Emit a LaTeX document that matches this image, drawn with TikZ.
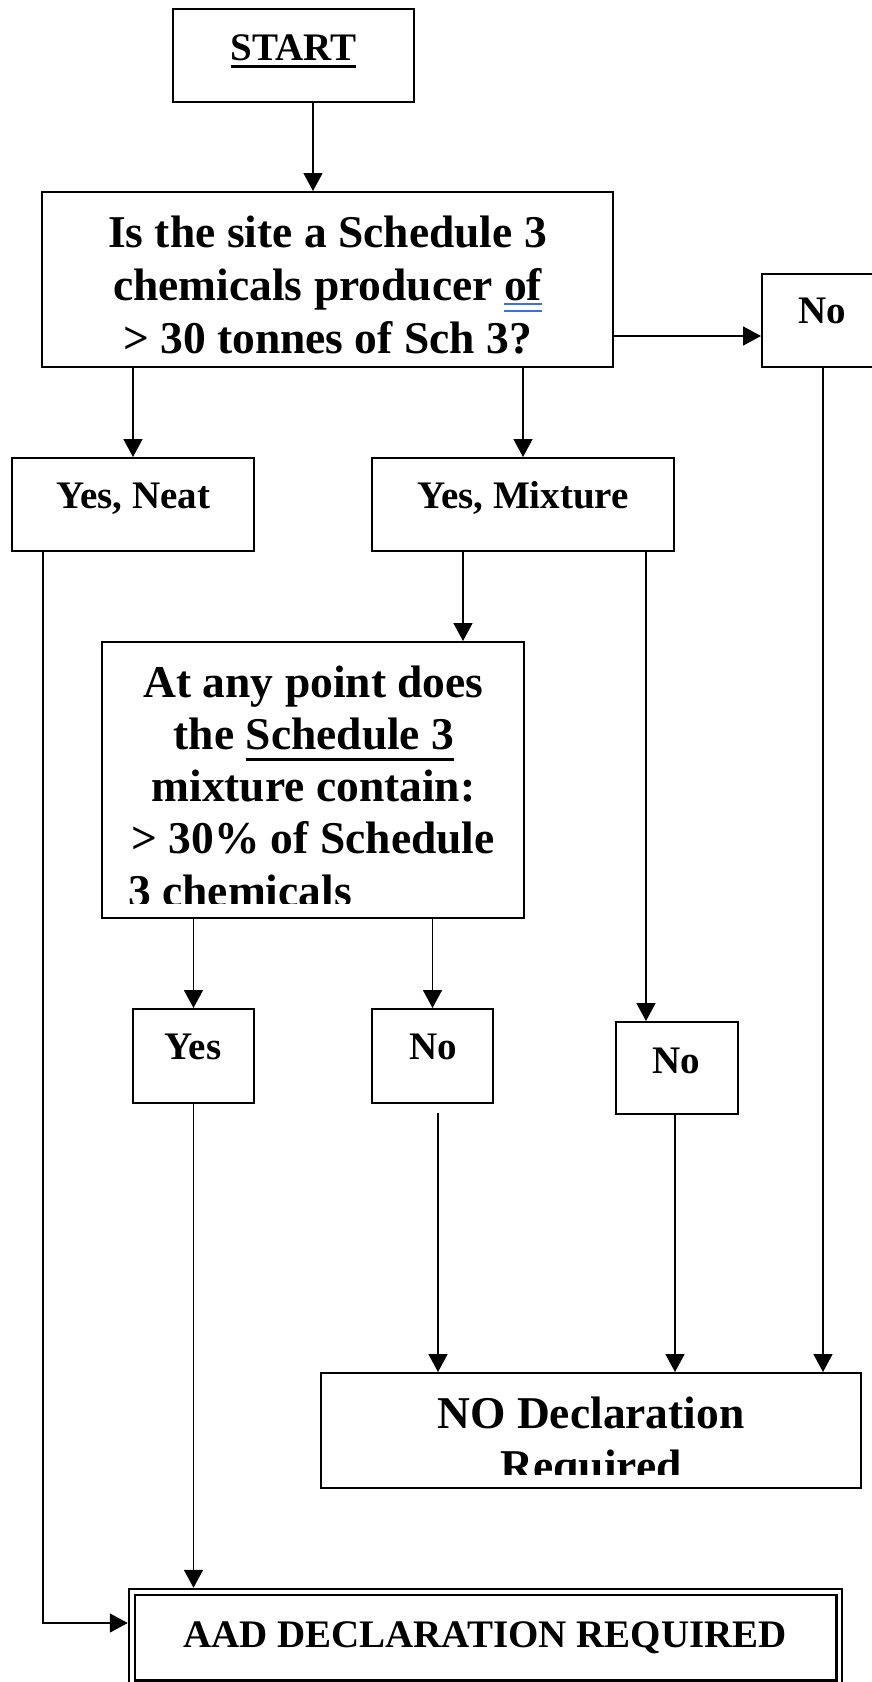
\documentclass[tikz,border=0pt]{standalone}
\usepackage{fontspec}
\setmainfont{Liberation Serif}
\usetikzlibrary{arrows.meta}
\definecolor{ulblue}{RGB}{60,110,230}
\newcommand\smallfnt{\fontsize{39}{45}\selectfont\bfseries}
\newcommand\bigfnt{\fontsize{45.5}{52}\selectfont\bfseries}
\newcommand\blkuline[3]{\setbox0=\hbox{#1}\rlap{\rule[#2]{\wd0}{#3}}\box0}
\newcommand\bluedbl[1]{\setbox0=\hbox{#1}\rlap{\color{ulblue}\rule[-5.2pt]{\wd0}{1.8pt}}\rlap{\color{ulblue}\rule[-12.2pt]{\wd0}{1.8pt}}\box0}
\tikzset{
  box/.style={draw, line width=2pt, rectangle, inner sep=0pt},
  conn/.style={line width=1.7pt},
  arr/.style={conn, -{Triangle[length=18pt,width=19pt]}},
  lbl/.style={anchor=base, inner sep=0pt},
  lblw/.style={anchor=base west, inner sep=0pt},
}
\begin{document}
\begin{tikzpicture}[x=1pt,y=-1pt]
\fill[white] (0,0) rectangle (872,1682);
\useasboundingbox (0,0) rectangle (872,1682);

% boxes
\node[box, minimum width=241pt, minimum height=93pt] (start) at (293.5,55.5) {};
\node[box, minimum width=571pt, minimum height=175pt] (q1) at (327.5,279.5) {};
\node[box, minimum width=128pt, minimum height=93pt] (no1) at (826,320.5) {};
\node[box, minimum width=242pt, minimum height=93pt] (neat) at (133,504.5) {};
\node[box, minimum width=302pt, minimum height=93pt] (mix) at (523,504.5) {};
\node[box, minimum width=422pt, minimum height=276pt] (q2) at (313,780) {};
\node[box, minimum width=121pt, minimum height=94pt] (yes) at (193.5,1056) {};
\node[box, minimum width=121pt, minimum height=94pt] (no2) at (432.5,1056) {};
\node[box, minimum width=122pt, minimum height=92pt] (no3) at (677,1068) {};
\node[box, minimum width=540pt, minimum height=115pt] (nodecl) at (591,1430.5) {};
\node[box, line width=2.5pt, minimum width=713pt, minimum height=97pt] (aad) at (485.5,1637.5) {};
\draw[line width=2.5pt] ([shift={(7,7)}]aad.north west) rectangle ([shift={(-7,-7)}]aad.south east);

% texts
\node[lbl] (tstart) at (293.5,60) {\smallfnt\blkuline{START}{-7.5pt}{3pt}};
\node[lbl] (tq1a) at (327.5,247) {\bigfnt Is the site a Schedule 3};
\node[lbl] (tq1b) at (327.5,300) {\bigfnt chemicals producer \bluedbl{of}};
\node[lbl] (tq1c) at (327.5,353) {\bigfnt > 30 tonnes of Sch 3?};
\node[lbl] (tno1) at (822,323) {\smallfnt No};
\node[lbl] (tneat) at (133.5,508) {\smallfnt Yes, Neat};
\node[lbl] (tmix) at (523,508) {\smallfnt Yes, Mixture};
\node[lbl] (tq2a) at (313.5,697) {\bigfnt At any point does};
\node[lbl] (tq2b) at (314,749) {\bigfnt the \blkuline{Schedule 3}{-11.5pt}{3pt}};
\node[lbl] (tq2c) at (313.5,801) {\bigfnt mixture contain:};
\node[lbl] (tq2d) at (313,853) {\bigfnt > 30\% of Schedule};
\begin{scope}
\clip (102,642) rectangle (524,903);
\node[lblw] (tq2e) at (128,906) {\bigfnt 3 chemicals};
\end{scope}
\node[lbl] (tyes) at (193,1059) {\smallfnt Yes};
\node[lbl] (tno2) at (433,1059) {\smallfnt No};
\node[lbl] (tno3) at (676,1073) {\smallfnt No};
\node[lbl] (tnodecl) at (591,1428) {\bigfnt NO Declaration};
\begin{scope}
\clip (321,1373) rectangle (861,1474);
\node[lbl] (treq) at (591,1481) {\bigfnt Required};
\end{scope}
\node[lbl] (taad) at (485,1647) {\smallfnt AAD DECLARATION REQUIRED};

% connectors
\draw[arr] ([xshift=19.5pt]start.south) -- ([xshift=19.5pt]start.south |- q1.north);
\draw[arr] ([yshift=-56.5pt]q1.east) -- ([yshift=-56.5pt]q1.east -| no1.west);
\draw[arr] (q1.south -| neat.north) -- (neat.north);
\draw[arr] (q1.south -| mix.north) -- (mix.north);
\draw[arr] ([xshift=-60pt]mix.south) -- ([xshift=-60pt]mix.south |- q2.north);
\draw[arr] ([xshift=123pt]mix.south) -- ([xshift=123pt]mix.south |- no3.north);
\draw[arr] (q2.south -| yes.north) -- (yes.north);
\draw[arr] (q2.south -| no2.north) -- (no2.north);
\draw[arr] ([xshift=5.5pt,yshift=-9pt]no2.south) -- ([xshift=5.5pt]no2.south |- nodecl.north);
\draw[arr] ([xshift=-2pt]no3.south) -- ([xshift=-2pt]no3.south |- nodecl.north);
\draw[arr] ([xshift=-3pt]no1.south) -- ([xshift=-3pt]no1.south |- nodecl.north);
\draw[arr] (yes.south) -- (yes.south |- aad.north);
\draw[arr] ([xshift=-90pt]neat.south) |- ([yshift=14.5pt]aad.west);
\end{tikzpicture}
\end{document}
